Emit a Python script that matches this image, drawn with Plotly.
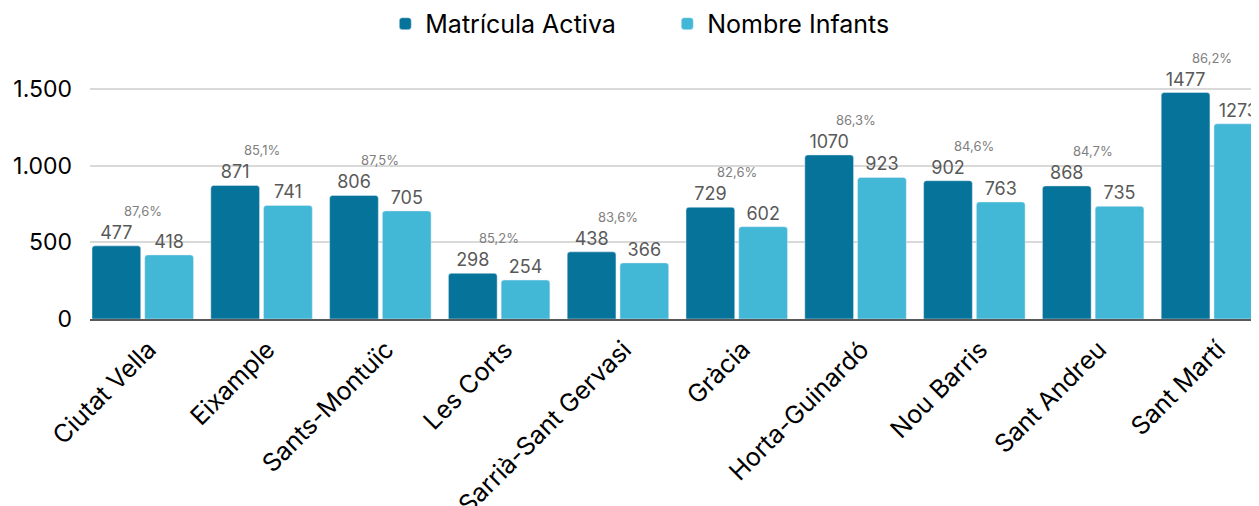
import plotly.graph_objects as go

districtes = ['Ciutat Vella', 'Eixample', 'Sants-Montuïc', 'Les Corts', 'Sarrià-Sant Gervasi',
              'Gràcia', 'Horta-Guinardó', 'Nou Barris', 'Sant Andreu', 'Sant Martí']
matricula_activa = [477, 871, 806, 298, 438, 729, 1070, 902, 868, 1477]
nombre_infants = [418, 741, 705, 254, 366, 602, 923, 763, 735, 1273]
percentatges = ['87,6%', '85,1%', '87,5%', '85,2%', '83,6%', '82,6%', '86,3%', '84,6%', '84,7%', '86,2%']

FONT = 'Inter'
DARK = '#05739A'
LIGHT = '#42B7D6'

fig = go.Figure()

fig.add_trace(go.Bar(
    x=districtes,
    y=matricula_activa,
    name='Matrícula Activa',
    marker_color=DARK,
    text=[str(v) for v in matricula_activa],
    texttemplate='%{text}',
    textposition='outside',
    textfont=dict(family=FONT, size=18, color='#595959'),
    cliponaxis=False
    ))
fig.add_trace(go.Bar(
    x=districtes,
    y=nombre_infants,
    name='Nombre Infants',
    marker_color=LIGHT,
    text=[str(v) for v in nombre_infants],
    texttemplate='%{text}',
    textposition='outside',
    textfont=dict(family=FONT, size=18, color='#595959'),
    cliponaxis=False
    ))

'''percentage labels above each group'''
for d, m, p in zip(districtes, matricula_activa, percentatges):
    fig.add_annotation(
        x=d,
        y=m,
        text=p,
        showarrow=False,
        yshift=35,
        font=dict(family=FONT, size=13, color='#808080')
        )

'''page body adds 8px margin, so the figure is 8px smaller than the window'''
fig.update_layout(
    width=1251,
    height=498,
    margin=dict(l=82, r=0, t=35, b=187, autoexpand=False),
    plot_bgcolor='white',
    paper_bgcolor='white',
    barmode='group',
    bargap=0.112,
    bargroupgap=0.076,
    barcornerradius=3,
    separators=',.',
    font=dict(family=FONT, color='black'),
    legend=dict(
        orientation='h',
        x=0.527,
        xanchor='center',
        xref='container',
        y=1.069,
        yanchor='middle',
        font=dict(family=FONT, size=25, color='black'),
        itemwidth=30,
        entrywidthmode='pixels',
        entrywidth=237
        ),
    showlegend=True
    )

fig.update_yaxes(
    range=[0, 1800],
    tickvals=[0, 500, 1000, 1500],
    tickformat=',',
    tickfont=dict(family=FONT, size=23, color='black'),
    showgrid=True,
    gridcolor='#D9D9D9',
    gridwidth=2,
    zeroline=False,
    showline=False,
    ticklabelstandoff=17,
    automargin=False
    )
fig.update_xaxes(
    range=[-0.444, 9.396],
    tickangle=-45,
    tickfont=dict(family=FONT, size=25, color='black'),
    ticklabelshift=6,
    ticklabelstandoff=4,
    showline=True,
    linecolor='#595959',
    linewidth=2,
    showgrid=False,
    automargin=False
    )

fig.write_html('out.html')
